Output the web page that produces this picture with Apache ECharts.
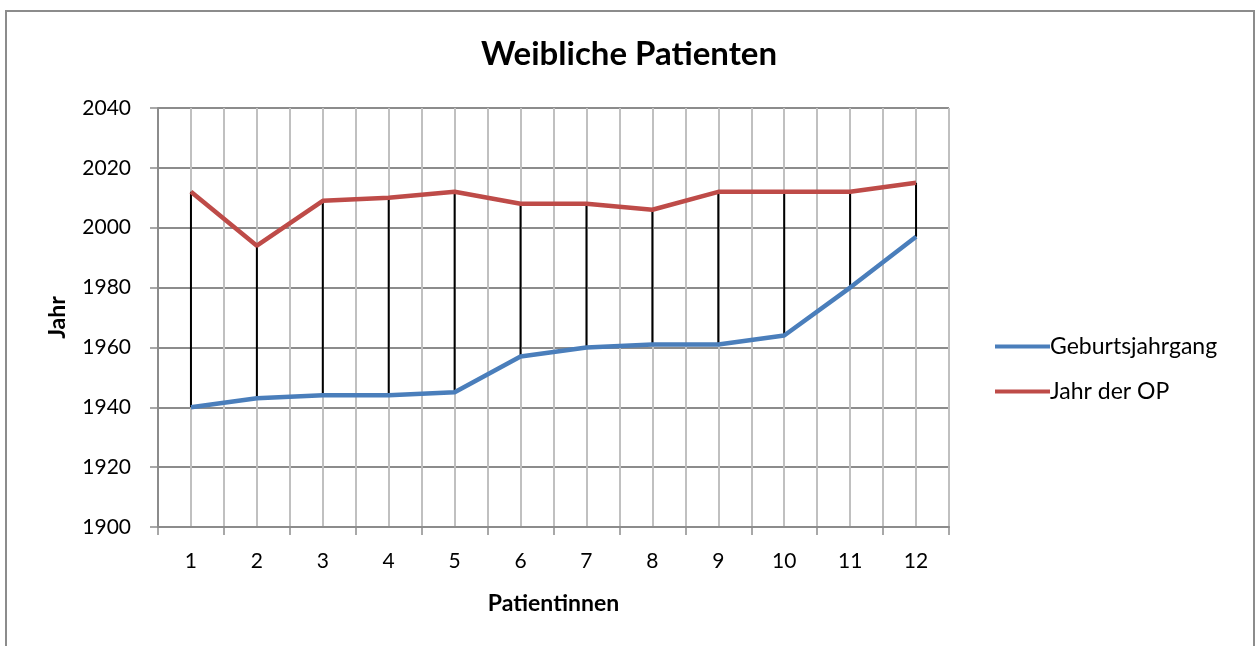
<!DOCTYPE html>
<html>
<head>
<meta charset="utf-8">
<script src="https://cdn.jsdelivr.net/npm/echarts@6/dist/echarts.min.js"></script>
<style>
html,body{margin:0;padding:0;background:#fff;}
#chart1{width:1258px;height:646px;}
</style>
</head>
<body>
<div id="chart1"></div>
<script>
var patientinnen=['1','2','3','4','5','6','7','8','9','10','11','12'];
var geburtsjahrgang=[1940,1943,1944,1944,1945,1957,1960,1961,1961,1964,1980,1997];
var jahrDerOP=[2012,1994,2009,2010,2012,2008,2008,2006,2012,2012,2012,2015];
var jahrTicks=[1900,1920,1940,1960,1980,2000,2020,2040];

chart1();

function chart1(){
	var myChart = echarts.init(document.getElementById('chart1'));
	var font='Lato';
	var hiLo=[];
	for(var i=0;i<patientinnen.length;i++){
		hiLo.push([i,geburtsjahrgang[i],jahrDerOP[i]]);
	}
	var option = {
		backgroundColor:'#fff',
		animation:false,
		textStyle:{fontFamily:font,color:'#000'},
		graphic:[{
			type:'rect',
			shape:{x:6,y:11,width:1248,height:700},
			style:{fill:'none',stroke:'#8c8c8c',lineWidth:2},
			silent:true
		}],
		title:{
			text:'Weibliche Patienten',
			left:'center',
			top:33,
			textStyle:{fontFamily:font,fontWeight:'bold',fontSize:33,color:'#000'}
		},
		legend:{
			orient:'vertical',
			left:990,
			top:330,
			itemWidth:55,
			itemHeight:4,
			itemGap:22,
			icon:'rect',
			textStyle:{fontFamily:font,fontSize:23,color:'#000',padding:[0,0,0,-5]},
			data:['Geburtsjahrgang','Jahr der OP']
		},
		grid:{left:158,right:309,top:108,bottom:119},
		xAxis:[{
			type:'category',
			data:patientinnen,
			boundaryGap:true,
			name:'Patientinnen',
			nameLocation:'middle',
			nameGap:65,
			nameTextStyle:{fontFamily:font,fontWeight:'bold',fontSize:23,color:'#000'},
			axisLine:{lineStyle:{color:'#8c8c8c',width:2}},
			axisTick:{show:true,length:8,lineStyle:{color:'#8c8c8c',width:1.5}},
			axisLabel:{fontFamily:font,fontSize:21,color:'#000',margin:24},
			splitLine:{show:false}
		},{
			type:'value',
			min:0.5,
			max:12.5,
			interval:0.5,
			show:true,
			axisLine:{show:false},
			axisTick:{show:false},
			axisLabel:{show:false},
			splitLine:{show:true,lineStyle:{color:'#c0c0c0',width:2}}
		}],
		yAxis:{
			type:'value',
			min:jahrTicks[0],
			max:jahrTicks[jahrTicks.length-1],
			interval:20,
			name:'Jahr',
			nameLocation:'middle',
			nameGap:89,
			nameTextStyle:{fontFamily:font,fontWeight:'bold',fontSize:23,color:'#000'},
			axisLine:{show:true,lineStyle:{color:'#8c8c8c',width:2}},
			axisTick:{show:true,length:8,lineStyle:{color:'#8c8c8c',width:1.5}},
			axisLabel:{fontFamily:font,fontSize:21,color:'#000',margin:27,formatter:function(v){return String(v);}},
			splitLine:{show:true,lineStyle:{color:'#8c8c8c',width:2}}
		},
		series:[{
			name:'Hoch-Tief',
			type:'custom',
			xAxisIndex:0,
			z:3,
			renderItem:function(params,api){
				var p1=api.coord([api.value(0),api.value(1)]);
				var p2=api.coord([api.value(0),api.value(2)]);
				return {
					type:'line',
					shape:{x1:p1[0],y1:p1[1],x2:p2[0],y2:p2[1]},
					style:{stroke:'#000',lineWidth:2}
				};
			},
			encode:{x:0,y:[1,2]},
			data:hiLo,
			silent:true
		},{
			name:'Geburtsjahrgang',
			type:'line',
			xAxisIndex:0,
			z:4,
			data:geburtsjahrgang,
			showSymbol:false,
			symbol:'none',
			color:'#4a7ebb',
			lineStyle:{color:'#4a7ebb',width:4.5}
		},{
			name:'Jahr der OP',
			type:'line',
			xAxisIndex:0,
			z:4,
			data:jahrDerOP,
			showSymbol:false,
			symbol:'none',
			color:'#be4b48',
			lineStyle:{color:'#be4b48',width:4.5}
		}]
	};
	myChart.setOption(option);
	window.addEventListener("resize",function() {
		myChart.resize();
	})
}
</script>
</body>
</html>
